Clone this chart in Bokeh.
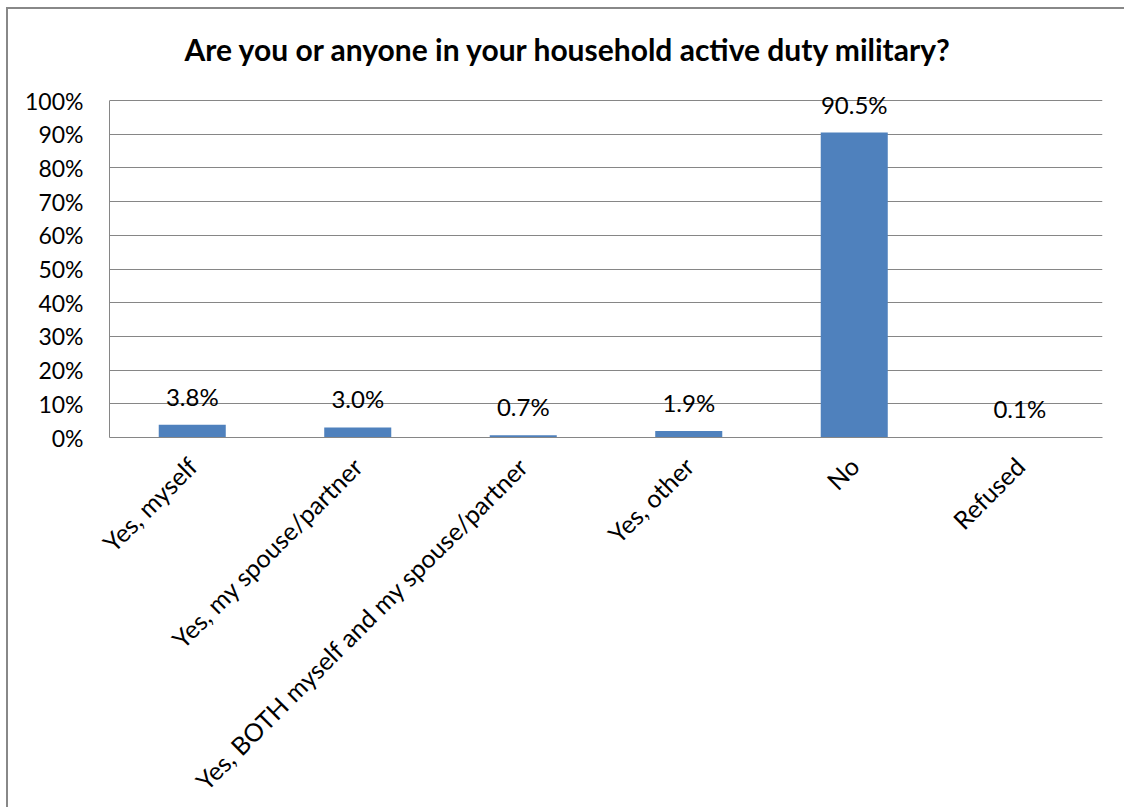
import math
from bokeh.plotting import figure
from bokeh.models import ColumnDataSource, LabelSet, NumeralTickFormatter, FixedTicker, Range1d
from bokeh.core.properties import value
from bokeh.embed import file_html
from bokeh.resources import INLINE

categories = ["Yes, myself", "Yes, my spouse/partner", "Yes, BOTH myself and my spouse/partner",
              "Yes, other", "No", "Refused"]
values = [0.038, 0.030, 0.007, 0.019, 0.905, 0.001]
value_labels = ["3.8%", "3.0%", "0.7%", "1.9%", "90.5%", "0.1%"]
y_ticks = [0.0, 0.1, 0.2, 0.3, 0.4, 0.5, 0.6, 0.7, 0.8, 0.9, 1.0]

FONT = "Lato"
BAR = "#4F81BD"
GRID = "#868686"

src = ColumnDataSource(dict(cat=categories, val=values, lab=value_labels))

# headroom above 100% so the top data label is not clipped
p = figure(x_range=categories, y_range=Range1d(0, 1 + 34 / 337),
           width=1116, height=796,
           frame_width=993, frame_height=371,
           min_border_left=101, min_border_top=57, min_border_right=22, min_border_bottom=368,
           output_backend="svg", toolbar_location=None,
           title="Are you or anyone in your household active duty military?")
p.styles = {"margin-left": "6px", "margin-top": "7px",
            "border-left": "2px solid #888888", "border-top": "2px solid #888888"}

p.title.text_font = FONT
p.title.text_font_style = "bold"
p.title.text_font_size = "30px"
p.title.text_color = "black"
p.title.align = "left"
p.title.offset = 75
p.title.standoff = 0

p.vbar(x="cat", top="val", width=0.405, source=src, fill_color=BAR, line_color=None)

labels = LabelSet(x="cat", y="val", text="lab", source=src, text_align="center",
                  text_baseline="alphabetic", y_offset=19, text_font_size="24px",
                  text_color="black", text_font=value(FONT))
p.add_layout(labels)

p.yaxis.ticker = FixedTicker(ticks=y_ticks)
p.yaxis.bounds = (0, 1)
p.yaxis.formatter = NumeralTickFormatter(format="0%")
p.yaxis.major_label_text_font = FONT
p.yaxis.major_label_text_font_size = "23px"
p.yaxis.major_label_text_color = "black"
p.yaxis.major_tick_line_color = None
p.yaxis.minor_tick_line_color = None
p.yaxis.major_tick_out = 0
p.yaxis.major_tick_in = 0
p.yaxis.major_label_standoff = 26
p.yaxis.axis_line_color = GRID

p.xaxis.major_label_orientation = math.pi / 4
p.xaxis.major_label_text_font = FONT
p.xaxis.major_label_text_font_size = "25px"
p.xaxis.major_label_text_color = "black"
p.xaxis.major_tick_line_color = None
p.xaxis.major_tick_out = 0
p.xaxis.major_tick_in = 0
p.xaxis.major_label_standoff = 24
p.xaxis.axis_line_color = GRID

p.xgrid.grid_line_color = None
p.ygrid.grid_line_color = GRID
p.ygrid.grid_line_width = 1
p.outline_line_color = None
p.background_fill_color = "white"
p.border_fill_color = "white"

open("out.html", "w").write(file_html(p, INLINE))
